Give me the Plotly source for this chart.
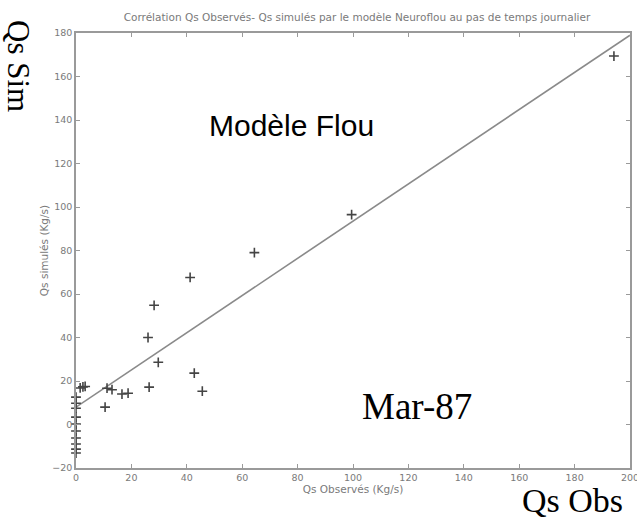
import plotly.graph_objects as go

# Observed vs simulated Qs (Kg/s)
qs_obs = [0, 0, 0, 0, 0, 0, 0, 0, 0, 0,
          1.5, 2.5, 3.3,
          10.5, 11.2, 13.0, 16.6, 18.8,
          26.4, 26.0, 28.2, 29.7, 41.2, 42.7, 45.6,
          64.4, 99.5, 194.2]
qs_sim = [12.6, 9.8, 7.5, 3.4, 0.2, -3.0, -6.2, -9.0, -11.3, -13.1,
          16.8, 17.3, 17.5,
          8.0, 16.7, 16.0, 14.0, 14.4,
          17.2, 40.0, 54.8, 28.6, 67.6, 23.6, 15.3,
          79.0, 96.5, 169.4]

line_x = [0, 200]
line_y = [8.0, 179.0]

x_ticks = [0, 20, 40, 60, 80, 100, 120, 140, 160, 180, 200]
y_ticks = [-20, 0, 20, 40, 60, 80, 100, 120, 140, 160, 180]

L, R, T, B = 76, 7, 33, 53
W, H = 637, 521
PW, PH = W - L - R, H - T - B

def px(xp):
    return (xp - L) / PW

def py(yp):
    return (H - B - yp) / PH

small_font = dict(family="DejaVu Sans", size=9.5, color="#7a7a7a")
title_font = dict(family="DejaVu Sans", size=10.5, color="#7a7a7a")

fig = go.Figure()
fig.add_trace(go.Scatter(x=line_x, y=line_y, mode="lines",
                         line=dict(color="#8a8a8a", width=1.6),
                         showlegend=False, hoverinfo="skip"))
fig.add_trace(go.Scatter(x=qs_obs, y=qs_sim, mode="markers",
                         marker=dict(symbol="cross-thin", size=7,
                                     line=dict(color="#444444", width=1.6)),
                         showlegend=False, cliponaxis=False))

axis_common = dict(showgrid=False, zeroline=False, showline=True,
                   linecolor="#9a9a9a", linewidth=1.5, mirror="ticks",
                   ticks="inside", ticklen=4, tickcolor="#9a9a9a", tickwidth=1,
                   tickfont=small_font, ticklabeloverflow="allow",
                   automargin=False)

fig.update_layout(
    width=W, height=H,
    margin=dict(l=L, r=R, t=T, b=B, autoexpand=False),
    paper_bgcolor="white", plot_bgcolor="white",
    title=dict(text="Corrélation Qs Observés- Qs simulés par le modèle Neuroflou au pas de temps journalier",
               x=357 / W, xanchor="center",
               y=1 - 17 / H, yanchor="middle",
               font=title_font),
    xaxis=dict(range=[0, 200], tickvals=x_ticks, **axis_common,
               title=dict(text="Qs Observés (Kg/s)", standoff=3, font=title_font)),
    yaxis=dict(range=[-20, 180], tickvals=y_ticks, **axis_common,
               title=dict(text="Qs simulés (Kg/s)", standoff=2, font=title_font)),
    annotations=[
        dict(text="Qs Sim", xref="paper", yref="paper",
             x=px(19), y=py(66), textangle=90,
             showarrow=False, xanchor="center", yanchor="middle",
             font=dict(family="Liberation Serif", size=31, color="black")),
        dict(text="Modèle Flou", xref="paper", yref="paper",
             x=px(291), y=py(125),
             showarrow=False, xanchor="center", yanchor="middle",
             font=dict(family="Liberation Sans", size=30, color="black")),
        dict(text="Mar-87", xref="paper", yref="paper",
             x=px(417), y=py(406),
             showarrow=False, xanchor="center", yanchor="middle",
             font=dict(family="Liberation Serif", size=37, color="black")),
        dict(text="Qs Obs", xref="paper", yref="paper",
             x=px(572), y=py(500),
             showarrow=False, xanchor="center", yanchor="middle",
             font=dict(family="Liberation Serif", size=34, color="black")),
    ],
)

fig.write_html("out.html")
